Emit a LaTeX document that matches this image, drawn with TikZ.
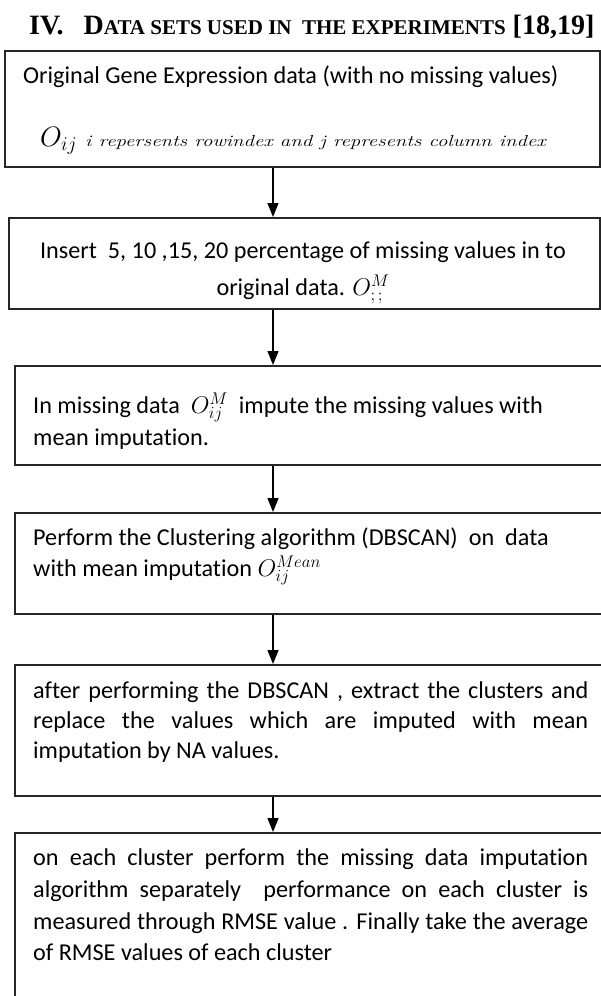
\documentclass[tikz,border=0pt]{standalone}
\usepackage{fix-cm}
\usepackage{fontspec}
\setmainfont{Carlito}[Ligatures=NoCommon]
\newfontfamily\titlefont{Liberation Serif}
\newfontfamily\lmit{Latin Modern Roman}
\usetikzlibrary{arrows.meta}
\begin{document}
\begin{tikzpicture}[x=1pt,y=-1pt,
  box/.style={draw=black!85, line width=1.5pt, anchor=north west, inner sep=0pt},
  txt/.style={anchor=base west, inner sep=0pt, font=\fontsize{24.2}{24}\selectfont},
  ctxt/.style={anchor=base, inner sep=0pt, font=\fontsize{24.2}{24}\selectfont},
  arr/.style={line width=1.3pt, draw=black, -{Triangle[width=11pt,length=14pt]}}]
\useasboundingbox (0,0) rectangle (601,996);
\begin{scope}
\clip (0,0) rectangle (601,996);
% title
\node[anchor=base west, inner sep=0pt] (title) at (29,34)
  {\titlefont\bfseries\fontsize{28}{28}\selectfont IV.\hspace{20pt}D{\fontsize{21}{21}\selectfont ATA SETS USED IN\ \ THE EXPERIMENTS}~[18,19]};
% boxes
\node[box, minimum width=595pt, minimum height=116pt] (b1) at (4,50) {};
\node[box, minimum width=591pt, minimum height=91pt] (b2) at (8,217) {};
\node[box, minimum width=620pt, minimum height=99pt] (b3) at (14,365) {};
\node[box, minimum width=620pt, minimum height=101pt] (b4) at (14,512) {};
\node[box, minimum width=620pt, minimum height=131pt] (b5) at (14,664) {};
\node[box, minimum width=620pt, minimum height=200pt] (b6) at (14,832) {};
% arrows
\coordinate (ax) at (273,0);
\draw[arr] (b1.south -| ax) -- (b2.north -| ax);
\draw[arr] (b2.south -| ax) -- (b3.north -| ax);
\draw[arr] (b3.south -| ax) -- (b4.north -| ax);
\draw[arr] (b4.south -| ax) -- (b5.north -| ax);
\draw[arr] (b5.south -| ax) -- (b6.north -| ax);
% box 1 text
\node[txt] (t1a) at (23,83) {Original Gene Expression data (with no missing values)};
\node[anchor=base west, inner sep=0pt] (t1b) at (40,146)
  {\fontsize{28}{28}\selectfont$O_{ij}$\hspace{8pt}\scalebox{1.3}[1]{\lmit\itshape\fontsize{16}{16}\selectfont i repersents rowindex and j represents column index}};
% box 2 text
\node[ctxt] (t2a) at (303,258) {Insert\ \ 5, 10 ,15, 20 percentage of missing values in to};
\node[ctxt] (t2b) at (303,295) {original data. $O^{M}_{;\,;}$};
% box 3 text
\node[txt] (t3a) at (33,413) {In missing data\ \ $O^{M}_{ij}$\ \ impute the missing values with};
\node[txt] (t3b) at (33,445) {mean imputation.};
% box 4 text
\node[txt] (t4a) at (33,545) {Perform the Clustering algorithm (DBSCAN)\ \ on\ \ data};
\node[txt] (t4b) at (33,576) {with mean imputation $O^{Mean}_{ij}$};
% box 5 text
\node[txt] (t5a) at (33,698) {\makebox[555pt][s]{after performing the DBSCAN , extract the clusters and}};
\node[txt] (t5b) at (33,728) {\makebox[555pt][s]{replace the values which are imputed with mean}};
\node[txt] (t5c) at (33,758) {imputation by NA values.};
% box 6 text
\node[txt] (t6a) at (33,865) {\makebox[555pt][s]{on each cluster perform the missing data imputation}};
\node[txt] (t6b) at (33,897) {\makebox[555pt][s]{algorithm separately\ \ performance on each cluster is}};
\node[txt] (t6c) at (33,929) {\makebox[555pt][s]{measured through RMSE value . Finally take the average}};
\node[txt] (t6d) at (33,960) {of RMSE values of each cluster};
\end{scope}
\end{tikzpicture}
\end{document}
